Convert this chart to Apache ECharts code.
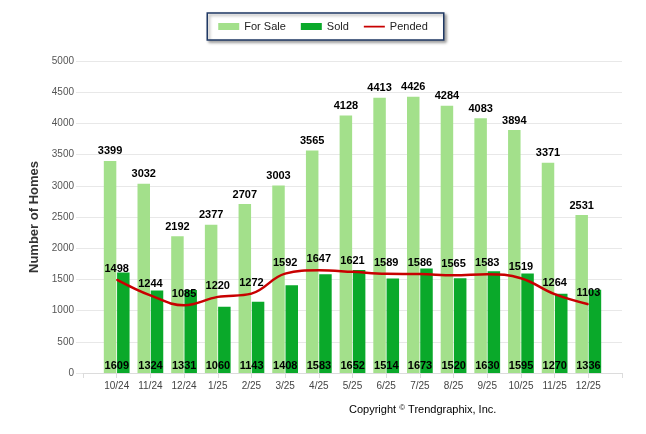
<!DOCTYPE html>
<html>
<head>
<meta charset="utf-8">
<script src="https://cdn.jsdelivr.net/npm/echarts@6/dist/echarts.min.js"></script>
<style>
html,body{margin:0;padding:0;background:#fff;}
#chart{width:646px;height:434px;}
</style>
</head>
<body>
<div id="chart"></div>
<script>
const months = ['10/24','11/24','12/24','1/25','2/25','3/25','4/25','5/25','6/25','7/25','8/25','9/25','10/25','11/25','12/25'];
const forSale = [3399,3032,2192,2377,2707,3003,3565,4128,4413,4426,4284,4083,3894,3371,2531];
const sold = [1609,1324,1331,1060,1143,1408,1583,1652,1514,1673,1520,1630,1595,1270,1336];
const pended = [1498,1244,1085,1220,1272,1592,1647,1621,1589,1586,1565,1583,1519,1264,1103];
const yTicks = [0,500,1000,1500,2000,2500,3000,3500,4000,4500,5000];

const pad = a => ['-'].concat(a, ['-']);
const cats = [''].concat(months, ['']);
const FONT = 'Liberation Sans, Arial, sans-serif';

const chart = echarts.init(document.getElementById('chart'), null, {renderer:'canvas'});
const labelStyle = {show:true, fontFamily:FONT, fontSize:11, fontWeight:'bold', color:'#000'};

chart.setOption({
  animation:false,
  backgroundColor:'#fff',
  textStyle:{fontFamily:FONT},
  legend:{
    left:'center', top:13,
    data:[
      {name:'For Sale', icon:'rect'},
      {name:'Sold', icon:'rect'},
      {name:'Pended', icon:'path://M0,0 L0.01,0 M0,2.6 L22,2.6 L22,4.6 L0,4.6 Z M22,7 L21.99,7',
       itemStyle:{color:'#c80000', opacity:1}}
    ],
    itemWidth:21, itemHeight:7, itemGap:15,
    padding:[8,16,8,11],
    borderColor:'#1f3864', borderWidth:1.5, borderRadius:0,
    backgroundColor:'#fff',
    shadowColor:'rgba(0,0,0,0.35)', shadowBlur:3, shadowOffsetX:2, shadowOffsetY:2,
    textStyle:{fontFamily:FONT, fontSize:11, color:'#222'}
  },
  grid:[
    {left:76, right:24, top:61, bottom:61},
    {left:83, right:24, top:61, bottom:61}
  ],
  xAxis:[
    {gridIndex:0, type:'category', data:cats, show:false},
    {gridIndex:1, type:'category', data:cats, boundaryGap:false,
     axisLine:{lineStyle:{color:'#dcdcdc'}},
     axisTick:{show:true, length:5, lineStyle:{color:'#dcdcdc'}},
     axisLabel:{fontFamily:FONT, fontSize:10, color:'#444', margin:8, interval:0},
     splitLine:{show:false}}
  ],
  yAxis:[
    {gridIndex:0, type:'value', min:yTicks[0], max:yTicks[yTicks.length-1], interval:yTicks[1]-yTicks[0],
     name:'Number of Homes', nameLocation:'middle', nameRotate:90, nameGap:32,
     nameTextStyle:{fontFamily:FONT, fontSize:13, fontWeight:'bold', color:'#333'},
     axisLine:{show:false}, axisTick:{show:false},
     axisLabel:{fontFamily:FONT, fontSize:10, color:'#555', margin:2, formatter:v => String(v)},
     splitLine:{lineStyle:{color:'#e8e8e8', width:1}}},
    {gridIndex:1, type:'value', min:yTicks[0], max:yTicks[yTicks.length-1], interval:yTicks[1]-yTicks[0],
     show:false, splitLine:{show:false}}
  ],
  series:[
    {name:'For Sale', type:'bar', xAxisIndex:1, yAxisIndex:1, data:pad(forSale),
     barWidth:12.5, barGap:'6%', itemStyle:{color:'#a3e08b'},
     label:Object.assign({position:'top', distance:4}, labelStyle)},
    {name:'Sold', type:'bar', xAxisIndex:1, yAxisIndex:1, data:pad(sold),
     barWidth:12.5, barGap:'6%', itemStyle:{color:'#0aa92a'},
     label:Object.assign({position:'insideBottom', distance:2, offset:[-6.5,0]}, labelStyle)},
    {name:'Pended', type:'line', xAxisIndex:1, yAxisIndex:1, data:pad(pended),
     smooth:0.4, symbol:'circle', symbolSize:1, showSymbol:true, z:5,
     lineStyle:{color:'#c80000', width:2.5}, itemStyle:{color:'#c80000'},
     label:Object.assign({position:'top', distance:5}, labelStyle)}
  ],
  graphic:[
    {type:'text', left:349, top:404,
     style:{text:'{a|Copyright }{b|©}{a| Trendgraphix, Inc.}',
       align:'center', verticalAlign:'top',
       rich:{a:{fontFamily:FONT, fontSize:11, color:'#444'},
             b:{fontFamily:FONT, fontSize:8, color:'#444', verticalAlign:'top', padding:[0,0,4,0]}}}}
  ]
});
</script>
</body>
</html>
